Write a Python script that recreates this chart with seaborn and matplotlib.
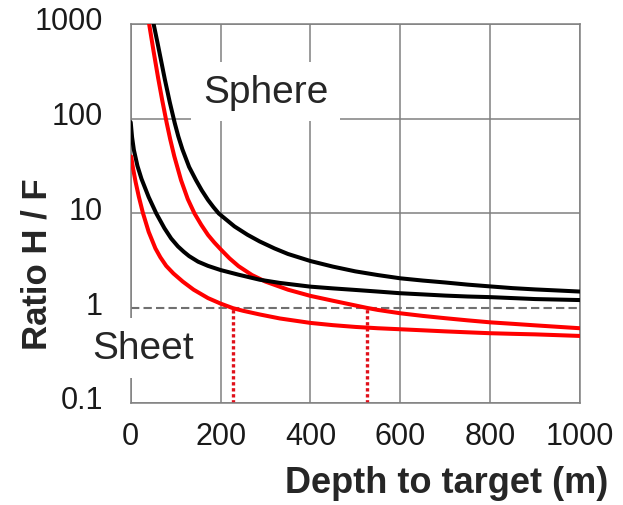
"""Ratio H/F against depth to target, sphere and sheet models (log y)."""
import matplotlib
matplotlib.use("Agg")
import matplotlib.pyplot as plt
import matplotlib.transforms as mtransforms
import seaborn as sns

# ----------------------------------------------------------------------------- data
# sphere model, black curve
SPH_BLACK_D = [51, 60, 76, 87, 98, 106, 115, 130, 145, 158, 172, 184, 196, 231, 260, 287, 320, 350,
               400, 450, 500, 550, 600, 650, 700, 750, 800, 850, 900, 950, 1000]
SPH_BLACK_V = [1000, 622, 260, 149, 90, 65, 47.6, 31, 22.6, 17.6, 13.9, 11.7, 10, 7.3, 5.96, 5.07, 4.28, 3.74,
               3.15, 2.75, 2.45, 2.24, 2.07, 1.96, 1.87, 1.775, 1.70, 1.63, 1.58, 1.54, 1.50]
# sphere model, red curve
SPH_RED_D = [41, 51, 61, 70, 80, 88, 97, 112, 127, 142, 157, 172, 186, 200, 220, 240, 270, 300, 350,
             400, 450, 500, 525, 550, 600, 650, 700, 750, 800, 850, 900, 950, 1000]
SPH_RED_V = [1000, 512, 270, 158, 90.8, 60.5, 40.2, 22.5, 14.2, 10, 7.59, 5.94, 4.95, 4.2, 3.36, 2.78, 2.24, 1.91, 1.57,
             1.35, 1.2, 1.07, 1.01, 0.96, 0.885, 0.83, 0.785, 0.745, 0.71, 0.685, 0.66, 0.637, 0.615]
# sheet model, black curve
SHT_BLACK_D = [0, 3, 7, 15, 24, 40, 57, 75, 90, 105, 118, 130, 150, 172, 200, 240, 287, 332,
               400, 450, 500, 550, 600, 650, 700, 750, 800, 850, 900, 950, 1000]
SHT_BLACK_V = [92, 64, 47, 31.8, 23.2, 14.9, 10, 7.0, 5.45, 4.5, 3.95, 3.55, 3.1, 2.8, 2.53, 2.26, 2.0, 1.85,
               1.69, 1.62, 1.56, 1.50, 1.44, 1.40, 1.36, 1.33, 1.31, 1.28, 1.25, 1.235, 1.22]
# sheet model, red curve
SHT_RED_D = [1, 5, 11, 18, 27, 40, 55, 66, 79, 95, 116, 140, 172, 200, 228, 250, 287, 332,
             400, 450, 500, 550, 600, 650, 700, 750, 800, 850, 900, 950, 1000]
SHT_RED_V = [40, 30.3, 21.4, 15.1, 10.2, 6.4, 4.28, 3.45, 2.8, 2.33, 1.91, 1.57, 1.28, 1.12, 1.0, 0.94, 0.86, 0.78,
             0.70, 0.663, 0.635, 0.615, 0.60, 0.585, 0.57, 0.557, 0.545, 0.537, 0.53, 0.52, 0.51]

# depths where the red curves cross ratio 1
CROSS_D = [228, 525]
RATIO_ONE = 1.0

X_TICKS = [0, 200, 400, 600, 800, 1000]
Y_TICKS = [0.1, 1, 10, 100, 1000]
Y_TICK_LABELS = ["0.1", "1", "10", "100", "1000"]

GRID = "#808080"
RED = "#ff0000"

# ----------------------------------------------------------------------------- figure
sns.set_theme(style="white")
plt.rcParams["font.family"] = ["Liberation Sans", "DejaVu Sans"]

fig = plt.figure(figsize=(6.23, 5.06), dpi=100)
ax = fig.add_axes([0.2098, 0.2016, 0.7212, 0.749])

ax.set_yscale("log")
ax.set_xlim(0, 1000)
ax.set_ylim(0.1, 1000)
ax.set_xticks(X_TICKS)
ax.set_yticks(Y_TICKS)
ax.set_yticklabels(Y_TICK_LABELS)
ax.minorticks_off()

ax.grid(True, color=GRID, lw=1.1, zorder=0)
ax.set_axisbelow(True)
# the ratio-1 line is drawn dashed instead of a plain grid line
ax.yaxis.get_major_ticks()[Y_TICKS.index(1)].gridline.set_visible(False)
ax.axhline(RATIO_ONE, color="#707070", lw=1.5, dashes=(4, 2), zorder=1)

for sp in ax.spines.values():
    sp.set_color(GRID)
    sp.set_linewidth(1.1)

for d, v, c in [(SPH_BLACK_D, SPH_BLACK_V, "black"), (SPH_RED_D, SPH_RED_V, RED),
                (SHT_BLACK_D, SHT_BLACK_V, "black"), (SHT_RED_D, SHT_RED_V, RED)]:
    sns.lineplot(x=d, y=v, color=c, lw=2.9, ax=ax, legend=False, zorder=3)

for xd in CROSS_D:
    ax.plot([xd, xd], [0.1, RATIO_ONE], color="#e0101a", lw=2.4,
            linestyle=(0, (1, 0.8)), zorder=2)

box = dict(boxstyle="square,pad=0.3", facecolor="white", edgecolor="none")
ax.text(300, 151, "Sphere", fontsize=28, ha="center", va="baseline", bbox=box, zorder=4)
ax.text(28, 0.298, "Sheet", fontsize=28, ha="center", va="baseline", bbox=box,
        zorder=4, clip_on=False)

ax.tick_params(axis="both", which="major", direction="out", length=3, width=1.1,
               color=GRID, labelsize=22, labelcolor="#1a1a1a")
ax.tick_params(axis="x", pad=10)
ax.tick_params(axis="y", pad=17)

# y labels sit a few pixels above their grid lines in the original
shift = mtransforms.ScaledTranslation(0, 6 / 100, fig.dpi_scale_trans)
for lab in ax.get_yticklabels():
    lab.set_transform(lab.get_transform() + shift)

ax.set_xlabel("Depth to target (m)", fontsize=26, fontweight="bold")
ax.xaxis.set_label_coords(0.703, -0.235)
ax.xaxis.label.set_va("baseline")
ax.set_ylabel("Ratio H / F", fontsize=25, fontweight="bold")
ax.yaxis.set_label_coords(-0.171, 0.368)

fig.savefig("out.png", dpi=100)
